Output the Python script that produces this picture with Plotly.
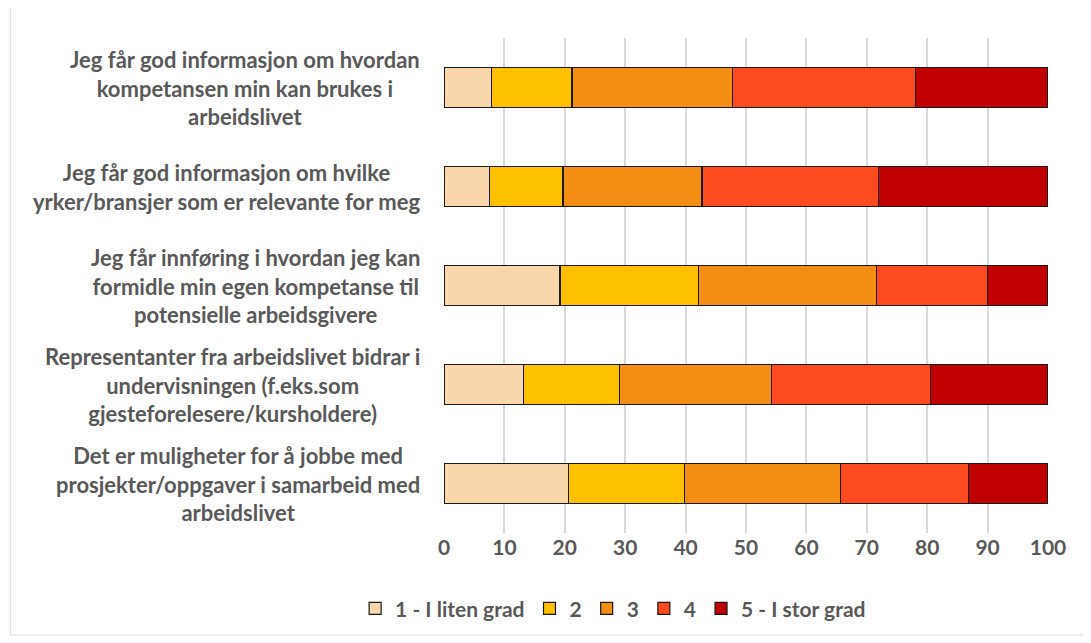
import plotly.graph_objects as go

# statements, top to bottom as shown
statements = [
    "Jeg får god informasjon om hvordan<br>kompetansen min kan brukes i<br>arbeidslivet",
    "Jeg får god informasjon om hvilke<br>yrker/bransjer som er relevante for meg",
    "Jeg får innføring i hvordan jeg kan<br>formidle min egen kompetanse til<br>potensielle arbeidsgivere",
    "Representanter fra arbeidslivet bidrar i<br>undervisningen (f.eks.som<br>gjesteforelesere/kursholdere)",
    "Det er muligheter for å jobbe med<br>prosjekter/oppgaver i samarbeid med<br>arbeidslivet",
]
series_names = ["1 - I liten grad", "2", "3", "4", "5 - I stor grad"]

# percent per answer level, same order as statements
level_1 = [7.9, 7.5, 19.2, 13.2, 20.6]
level_2 = [13.3, 12.2, 23.0, 15.9, 19.2]
level_3 = [26.6, 23.0, 29.4, 25.1, 25.9]
level_4 = [30.3, 29.3, 18.4, 26.3, 21.1]
level_5 = [21.9, 28.0, 10.0, 19.5, 13.2]

colors = ["#F9D7AB", "#FFC000", "#F38D14", "#FF4B1F", "#C00000"]
font_name = "Lato"
text_gray = "#595959"

fig = go.Figure()
for name, vals, col in zip(series_names, [level_1, level_2, level_3, level_4, level_5], colors):
    fig.add_trace(go.Bar(
        y=statements, x=vals, name=name, orientation="h",
        marker=dict(color=col, line=dict(color="#1a1a1a", width=1.2)),
        width=0.4,
    ))

for s in statements:
    fig.add_annotation(
        x=0, y=s, xref="x", yref="y", text=s, showarrow=False,
        xanchor="right", align="center", xshift=-22,
        font=dict(family=font_name, size=22, color=text_gray, weight="bold"),
    )

# outer chart border
fig.add_shape(type="rect", xref="paper", yref="paper",
              x0=-0.718, x1=1.061, y0=-0.206, y1=1.062,
              line=dict(color="#D9D9D9", width=1), layer="below")

fig.update_layout(
    barmode="stack",
    width=1091, height=643,
    margin=dict(l=436, r=51, t=30, b=118),
    plot_bgcolor="white", paper_bgcolor="white",
    font=dict(family=font_name, color=text_gray),
    xaxis=dict(range=[0, 100], dtick=10, showgrid=True, gridcolor="#D9D9D9",
               gridwidth=1.5, zeroline=False, ticks="",
               tickfont=dict(size=21, weight="bold", color=text_gray)),
    yaxis=dict(autorange="reversed", showticklabels=False, showgrid=False,
               zeroline=False),
    legend=dict(orientation="h", x=0.28, y=-0.153,
                xanchor="center", yanchor="middle",
                font=dict(size=21, weight="bold", color=text_gray),
                traceorder="normal", itemwidth=30),
    bargap=0.6,
)

fig.write_html("out.html")
